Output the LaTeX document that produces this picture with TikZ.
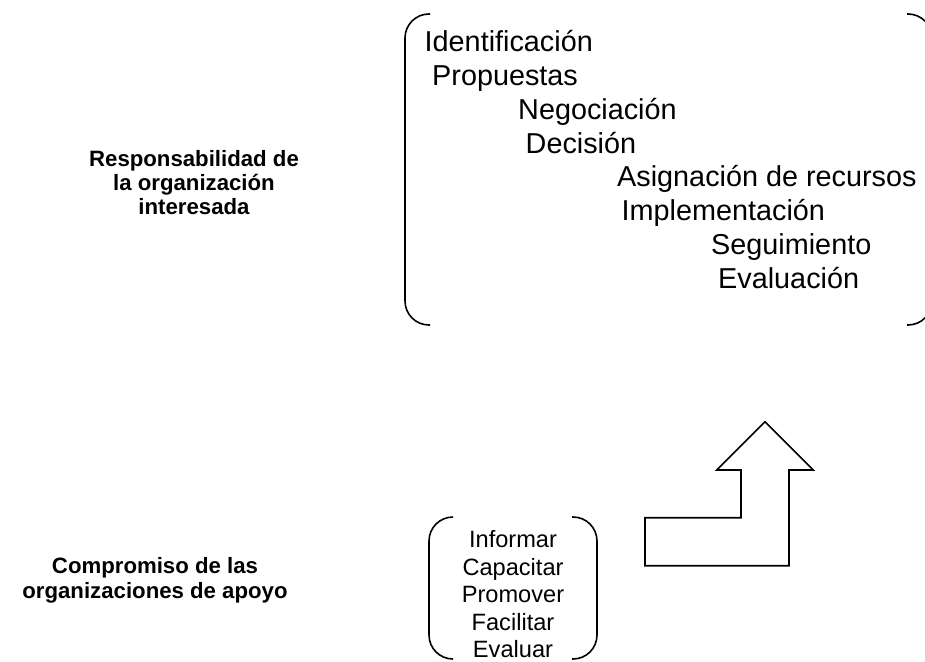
\documentclass[tikz,border=0pt]{standalone}
\usepackage{fontspec}
\setmainfont{Liberation Sans}
\begin{document}
\begin{tikzpicture}[x=1pt,y=-1pt,
  stepline/.style={anchor=base west,inner sep=0pt,font=\fontsize{28.8}{33.7}\selectfont},
  smalllist/.style={anchor=base,inner sep=0pt,align=center,font=\fontsize{23.6}{27.4}\selectfont},
  boldlabel/.style={anchor=base,inner sep=0pt,align=center,font=\fontsize{22.2}{24.5}\selectfont\bfseries},
  bracket/.style={draw=black,line width=1.6pt,rounded corners=24pt},
  bigarrow/.style={draw=black,line width=1.6pt,line join=miter}]
\useasboundingbox (0,0) rectangle (925,661);
\clip (0,0) rectangle (925,661);

% left labels (anchor = baseline of the last line)
\node[boldlabel,font=\fontsize{22.2}{24}\selectfont\bfseries] (resp) at (194,214.6) {Responsabilidad de\\la organización\\interesada};
\node[boldlabel,font=\fontsize{22.2}{25}\selectfont\bfseries] (comp) at (155,598.3) {Compromiso de las\\organizaciones de apoyo};

% large brackets
\draw[bracket] (430,14) -- (405,14) -- (405,325) -- (430,325);
\draw[bracket] (907,14) -- (932,14) -- (932,325) -- (907,325);

% steps
\node[stepline] (s1) at (424.5,52) {Identificación};
\node[stepline] (s2) at (432,85.7) {Propuestas};
\node[stepline] (s3) at (518,119.4) {Negociación};
\node[stepline] (s4) at (525.5,153) {Decisión};
\node[stepline] (s5) at (617,186.8) {Asignación de recursos};
\node[stepline] (s6) at (621.5,220.5) {Implementación};
\node[stepline] (s7) at (711,254.2) {Seguimiento};
\node[stepline] (s8) at (718,288) {Evaluación};

% small brackets
\draw[bracket] (453,517) -- (429,517) -- (429,659) -- (453,659);
\draw[bracket] (572,517) -- (597,517) -- (597,659) -- (572,659);
\node[smalllist] (acts) at (513,657.5) {Informar\\Capacitar\\Promover\\Facilitar\\Evaluar};

% bent arrow
\draw[bigarrow] (765,421.7) -- (813.3,470) -- (789,470) -- (789,565.7)
  -- (645,565.7) -- (645,517.7) -- (741,517.7) -- (741,470) -- (716.7,470) -- cycle;
\end{tikzpicture}
\end{document}
